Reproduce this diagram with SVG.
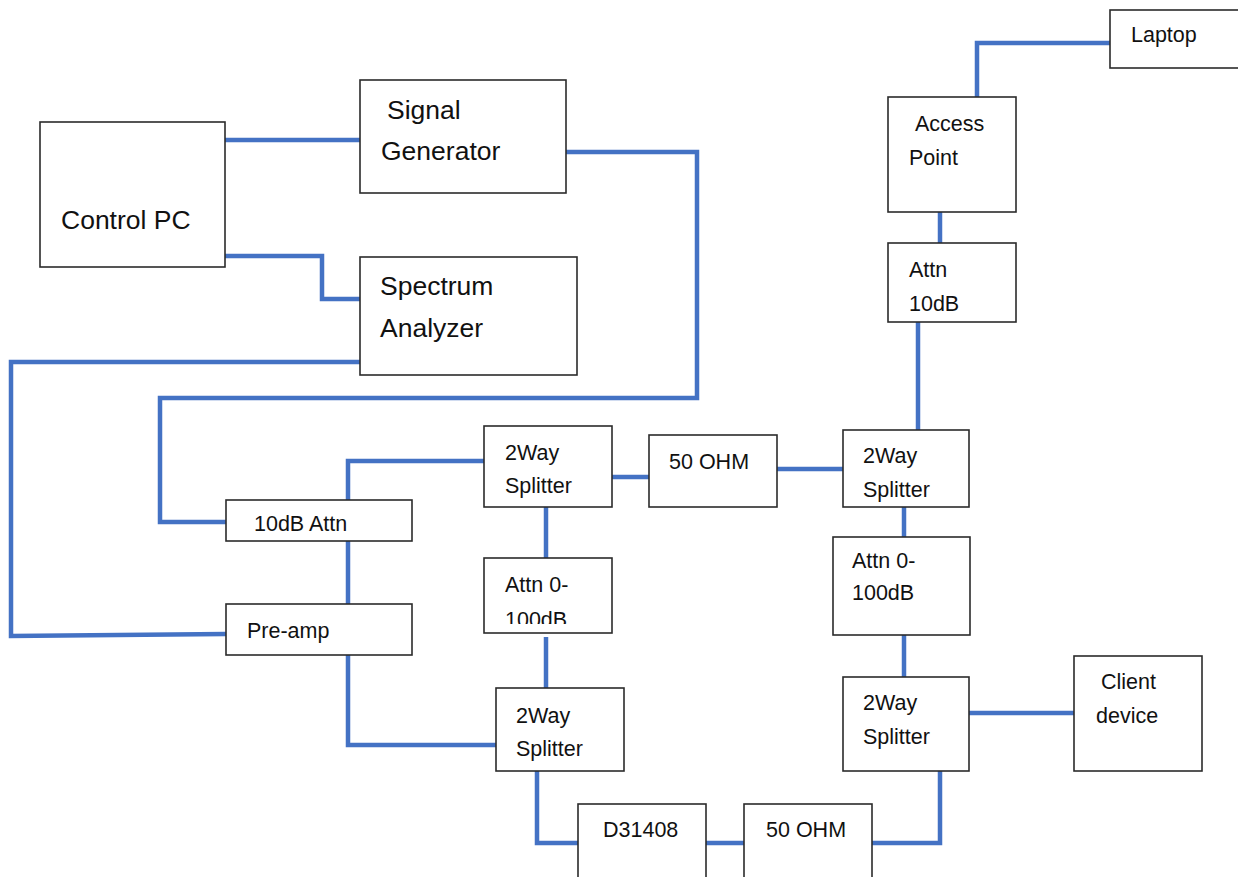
<svg xmlns="http://www.w3.org/2000/svg" width="1238" height="877" viewBox="0 0 1238 877">
<style>
.box{fill:#fff;stroke:#2b2b2b;stroke-width:1.6}
.w{fill:none;stroke:#4472C4;stroke-width:4.5;stroke-linejoin:miter}
.big{font-family:"Liberation Sans",Arial,sans-serif;font-size:26.5px;fill:#111}
.sm{font-family:"Liberation Sans",Arial,sans-serif;font-size:21.5px;fill:#111}
</style>
<defs>
<clipPath id="c1"><rect x="484" y="558" width="128" height="66"/></clipPath>
<clipPath id="c2"><rect x="843" y="430" width="126" height="72"/></clipPath>
</defs>
<rect width="1238" height="877" fill="#fff"/>
<g id="connectors">
<path class="w" d="M225 140H360"/>
<path class="w" d="M225 256H322V299H360"/>
<path class="w" d="M566 152H697V398H160V522H226"/>
<path class="w" d="M360 362H11V636L226 634"/>
<path class="w" d="M348 500V461H484"/>
<path class="w" d="M348 541V604"/>
<path class="w" d="M348 655V745H496"/>
<path class="w" d="M612 477H649"/>
<path class="w" d="M770 469H843"/>
<path class="w" d="M546 507V558"/>
<path class="w" d="M546 637V688"/>
<path class="w" d="M537 771V843H578"/>
<path class="w" d="M706 843H757"/>
<path class="w" d="M872 843H940V771"/>
<path class="w" d="M969 713H1080"/>
<path class="w" d="M904 677V635"/>
<path class="w" d="M904 537V505"/>
<path class="w" d="M918 430V322"/>
<path class="w" d="M940 243V212"/>
<path class="w" d="M977 97V43H1110"/>
</g>
<g id="control-pc"><rect class="box" x="40" y="122" width="185" height="145"/><text class="big" x="61" y="229">Control PC</text></g>
<g id="signal-generator"><rect class="box" x="360" y="80" width="206" height="113"/><text class="big" x="387" y="119">Signal</text><text class="big" x="381" y="160">Generator</text></g>
<g id="spectrum-analyzer"><rect class="box" x="360" y="257" width="217" height="118"/><text class="big" x="380" y="295">Spectrum</text><text class="big" x="380" y="337">Analyzer</text></g>
<g id="laptop"><rect class="box" x="1110" y="10" width="130" height="58"/><text class="sm" x="1131" y="42">Laptop</text></g>
<g id="access-point"><rect class="box" x="888" y="97" width="128" height="115"/><text class="sm" x="915" y="131">Access</text><text class="sm" x="909" y="165">Point</text></g>
<g id="attn-10db"><rect class="box" x="888" y="243" width="128" height="79"/><text class="sm" x="909" y="277">Attn</text><text class="sm" x="909" y="311">10dB</text></g>
<g id="splitter-tr"><rect class="box" x="843" y="430" width="126" height="77"/><g clip-path="url(#c2)"><text class="sm" x="863" y="463">2Way</text><text class="sm" x="863" y="497">Splitter</text></g></g>
<g id="ohm-top"><rect class="box" x="649" y="435" width="128" height="72"/><text class="sm" x="669" y="469">50 OHM</text></g>
<g id="splitter-tm"><rect class="box" x="484" y="426" width="128" height="81"/><text class="sm" x="505" y="460">2Way</text><text class="sm" x="505" y="493">Splitter</text></g>
<g id="attn-10db-left"><rect class="box" x="226" y="500" width="186" height="41"/><text class="sm" x="254" y="531">10dB Attn</text></g>
<g id="preamp"><rect class="box" x="226" y="604" width="186" height="51"/><text class="sm" x="247" y="638">Pre-amp</text></g>
<g id="attn-mid"><rect class="box" x="484" y="558" width="128" height="75"/><g clip-path="url(#c1)"><text class="sm" x="505" y="592">Attn 0-</text><text class="sm" x="505" y="627">100dB</text></g></g>
<g id="splitter-bm"><rect class="box" x="496" y="688" width="128" height="83"/><text class="sm" x="516" y="723">2Way</text><text class="sm" x="516" y="756">Splitter</text></g>
<g id="d31408"><rect class="box" x="578" y="804" width="128" height="80"/><text class="sm" x="603" y="837">D31408</text></g>
<g id="ohm-bottom"><rect class="box" x="744" y="804" width="128" height="80"/><text class="sm" x="766" y="837">50 OHM</text></g>
<g id="attn-right"><rect class="box" x="833" y="537" width="137" height="98"/><text class="sm" x="852" y="568">Attn 0-</text><text class="sm" x="852" y="600">100dB</text></g>
<g id="splitter-br"><rect class="box" x="843" y="677" width="126" height="94"/><text class="sm" x="863" y="710">2Way</text><text class="sm" x="863" y="744">Splitter</text></g>
<g id="client-device"><rect class="box" x="1074" y="656" width="128" height="115"/><text class="sm" x="1101" y="689">Client</text><text class="sm" x="1096" y="723">device</text></g>
</svg>
